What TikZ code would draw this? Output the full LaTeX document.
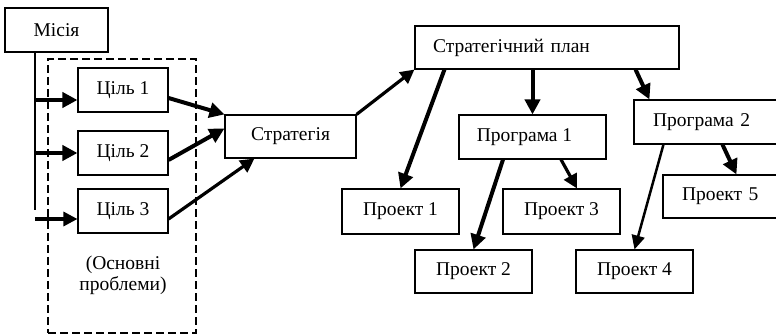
\documentclass[tikz,border=0pt]{standalone}
\usepackage{fontspec}
\setmainfont{Liberation Serif}
\usetikzlibrary{arrows.meta,calc}
\begin{document}
\begin{tikzpicture}[x=1pt,y=-1pt,
  box/.style={draw, line width=1.1pt, inner sep=0pt, font=\fontsize{19.5}{21}\selectfont},
  lbox/.style={box, align=left, inner xsep=18pt},
  arr/.style={-{Triangle[length=15pt,width=15pt]}, line width=4pt},
  marr/.style={-{Triangle[length=14pt,width=14pt]}, line width=3.2pt},
  tarr/.style={-{Triangle[length=14pt,width=13pt]}, line width=2.5pt}]
\useasboundingbox (0,0) rectangle (776,336);
\clip (0,0) rectangle (776,336);
% group
\node[draw, line width=2.2pt, dash pattern=on 8pt off 4pt, minimum width=148pt, minimum height=274pt, inner sep=0pt] (grp) at (122,196) {};
\node[font=\fontsize{19.5}{21}\selectfont, align=center] (txt) at (123,275) {(Основні\\проблеми)};
% boxes
\node[box, minimum width=103pt, minimum height=44pt] (m) at (56.5,30) {Місія};
\node[box, minimum width=90pt, minimum height=44pt] (c1) at (123,90) {Ціль 1};
\node[box, minimum width=90pt, minimum height=44pt] (c2) at (123,153) {Ціль 2};
\node[box, minimum width=90pt, minimum height=44pt] (c3) at (123,211) {Ціль 3};
\node[box, minimum width=131pt, minimum height=43pt] (s) at (290.5,136.5) {Стратегія};
\node[lbox, text width=228pt, minimum height=43pt] (plan) at (547,47.5) {Стратегічний план};
\node[box, minimum width=147pt, minimum height=44pt] (pr1) at (532.5,137) {Програма 1\hspace*{16pt}};
\node[lbox, inner xsep=19pt, text width=122pt, minimum height=44pt] (pr2) at (714,122) {Програма 2};
\node[lbox, inner xsep=19pt, text width=102pt, minimum height=43pt] (p5) at (733,196.5) {Проект 5};
\node[box, minimum width=117pt, minimum height=45pt] (p1) at (400.5,211.5) {Проект 1};
\node[box, minimum width=117pt, minimum height=45pt] (p3) at (561.5,211.5) {Проект 3};
\node[box, minimum width=117pt, minimum height=43pt] (p2) at (473.5,271.5) {Проект 2};
\node[box, minimum width=117pt, minimum height=43pt] (p4) at (634.5,271.5) {Проект 4};
% mission line
\coordinate (v) at (35,210);
\draw[line width=1.2pt] (m.south -| v) -- (v);
\draw[arr] ([yshift=-10pt]c1.west -| v) -- ([yshift=-10pt]c1.west);
\draw[arr] (c2.west -| v) -- (c2.west);
\draw[marr] ([yshift=-8pt]c3.west -| v) -- ([yshift=-8pt]c3.west);
% to strategy
\draw[arr] ([yshift=-8pt]c1.east) -- (s.north west);
\draw[arr] ([yshift=-7pt]c2.east) -- ([yshift=8pt]s.west);
\draw[marr] ([yshift=-8pt]c3.east) -- ([xshift=30pt]s.south west);
\draw[marr] (s.north east) -- (plan.south west);
% from plan
\draw[arr] ([xshift=30pt]plan.south west) -- (p1.north);
\draw[arr] (pr1.north |- plan.south) -- (pr1.north);
\draw[arr] ([xshift=-44pt]plan.south east) -- ([xshift=16pt]pr2.north west);
% from programs
\draw[arr] ([xshift=-29.5pt]pr1.south) -- (p2.north);
\draw[marr] ([xshift=28.5pt]pr1.south) -- ([xshift=15.5pt]p3.north);
\draw[tarr] ([xshift=30pt]pr2.south west) -- (p4.north);
\draw[arr] ([xshift=89pt]pr2.south west) -- ([xshift=74pt]p5.north west);
\end{tikzpicture}
\end{document}
